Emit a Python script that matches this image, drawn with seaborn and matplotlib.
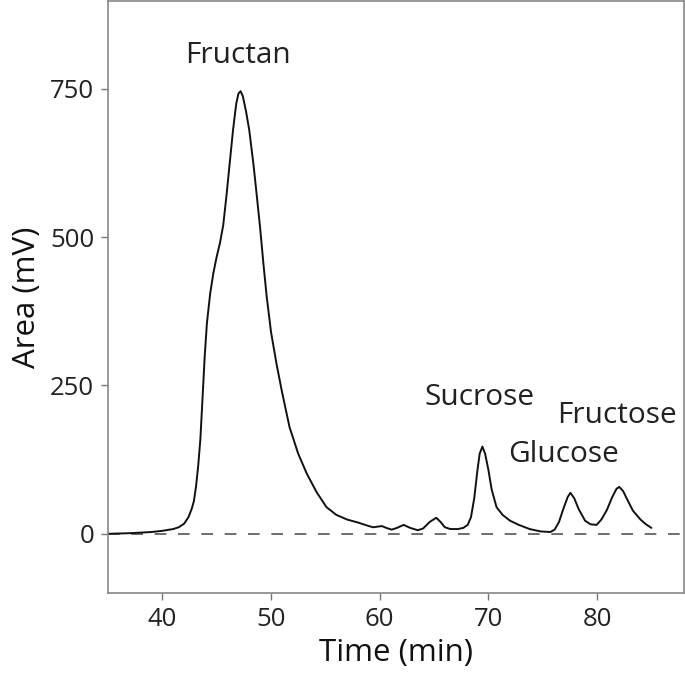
import matplotlib
matplotlib.use("Agg")
import matplotlib.pyplot as plt
import seaborn as sns
import pandas as pd

time_min = [35.0, 36.0, 37.0, 38.0, 39.0, 40.0, 41.0, 41.5, 42.0, 42.4, 42.7, 42.9,
            43.1, 43.3, 43.5, 43.7, 43.9, 44.1, 44.4, 44.7, 45.0, 45.3, 45.6, 45.9,
            46.2, 46.5, 46.8, 47.0, 47.2, 47.4, 47.7, 48.0, 48.4, 48.7, 49.0, 49.3,
            49.6, 50.0, 50.5, 51.0, 51.7, 52.5, 53.3, 54.2, 55.1, 56.0, 57.0, 58.0,
            58.5, 59.0, 59.4, 59.8, 60.2, 60.6, 61.1, 61.6, 62.2, 62.8, 63.5, 64.0,
            64.6, 65.2, 65.6, 66.0, 66.5, 67.2, 67.7, 68.1, 68.4, 68.7, 69.0, 69.2,
            69.45, 69.7, 70.0, 70.3, 70.75, 71.3, 72.0, 72.8, 73.8, 74.8, 75.7, 76.1,
            76.5, 76.9, 77.3, 77.55, 77.9, 78.3, 78.9, 79.4, 79.96, 80.4, 80.9, 81.4,
            81.8, 82.05, 82.4, 82.8, 83.3, 84.0, 84.5, 85.0]
area_mv = [0, 0.5, 1, 2, 3, 5, 8, 11, 17, 28, 42, 55,
           80, 115, 160, 230, 300, 355, 405, 440, 467, 490, 520, 570,
           625, 680, 725, 742, 746, 738, 712, 680, 620, 568, 515, 455,
           400, 340, 287, 240, 180, 135, 101, 70, 45, 32, 24, 19,
           16, 13, 11, 12, 13, 10, 7, 10, 15, 10, 6, 9,
           20, 27, 20, 11, 8, 8, 10, 15, 28, 60, 108, 135,
           147, 135, 108, 75, 45, 32, 22, 15, 8, 4, 3, 7,
           20, 42, 62, 69, 60, 42, 22, 16, 15, 24, 40, 62,
           76, 79, 72, 57, 39, 24, 16, 10]

peak_labels = ["Fructan", "Sucrose", "Glucose", "Fructose"]
label_x = [47.0, 69.2, 76.9, 81.8]
label_y = [807, 230, 134, 200]

x_ticks = [40, 50, 60, 70, 80]
y_ticks = [0, 250, 500, 750]

sns.set_theme(style="white")
plt.rcParams["font.family"] = ["Open Sans", "DejaVu Sans"]

df = pd.DataFrame({"Time (min)": time_min, "Area (mV)": area_mv})

fig = plt.figure(figsize=(6.85, 6.74), dpi=100)
ax = fig.add_axes([0.1577, 0.120, 0.8408, 0.8785])

ax.axhline(0, color="#555555", lw=1.2, ls=(0, (7, 7)), zorder=1)
sns.lineplot(data=df, x="Time (min)", y="Area (mV)", ax=ax, color="#111111",
             lw=1.4, sort=False, zorder=2)

for lab, lx, ly in zip(peak_labels, label_x, label_y):
    ax.text(lx, ly, lab, ha="center", va="center", fontsize=21.5, color="#222222")

ax.set_xlim(35, 88)
ax.set_ylim(-100, 898)
ax.set_xticks(x_ticks)
ax.set_yticks(y_ticks)
ax.tick_params(axis="both", which="both", direction="out", length=5, width=1,
               color="#777777", labelsize=18.5, labelcolor="#222222", pad=5)
ax.tick_params(left=True, bottom=True)
for sp in ax.spines.values():
    sp.set_visible(True)
    sp.set_color("#888888")
    sp.set_linewidth(1.2)

ax.set_xlabel("Time (min)", fontsize=22.5, color="#111111", labelpad=4)
ax.set_ylabel("Area (mV)", fontsize=22.5, color="#111111", labelpad=6)

fig.savefig("out.png", dpi=100, facecolor="white")
